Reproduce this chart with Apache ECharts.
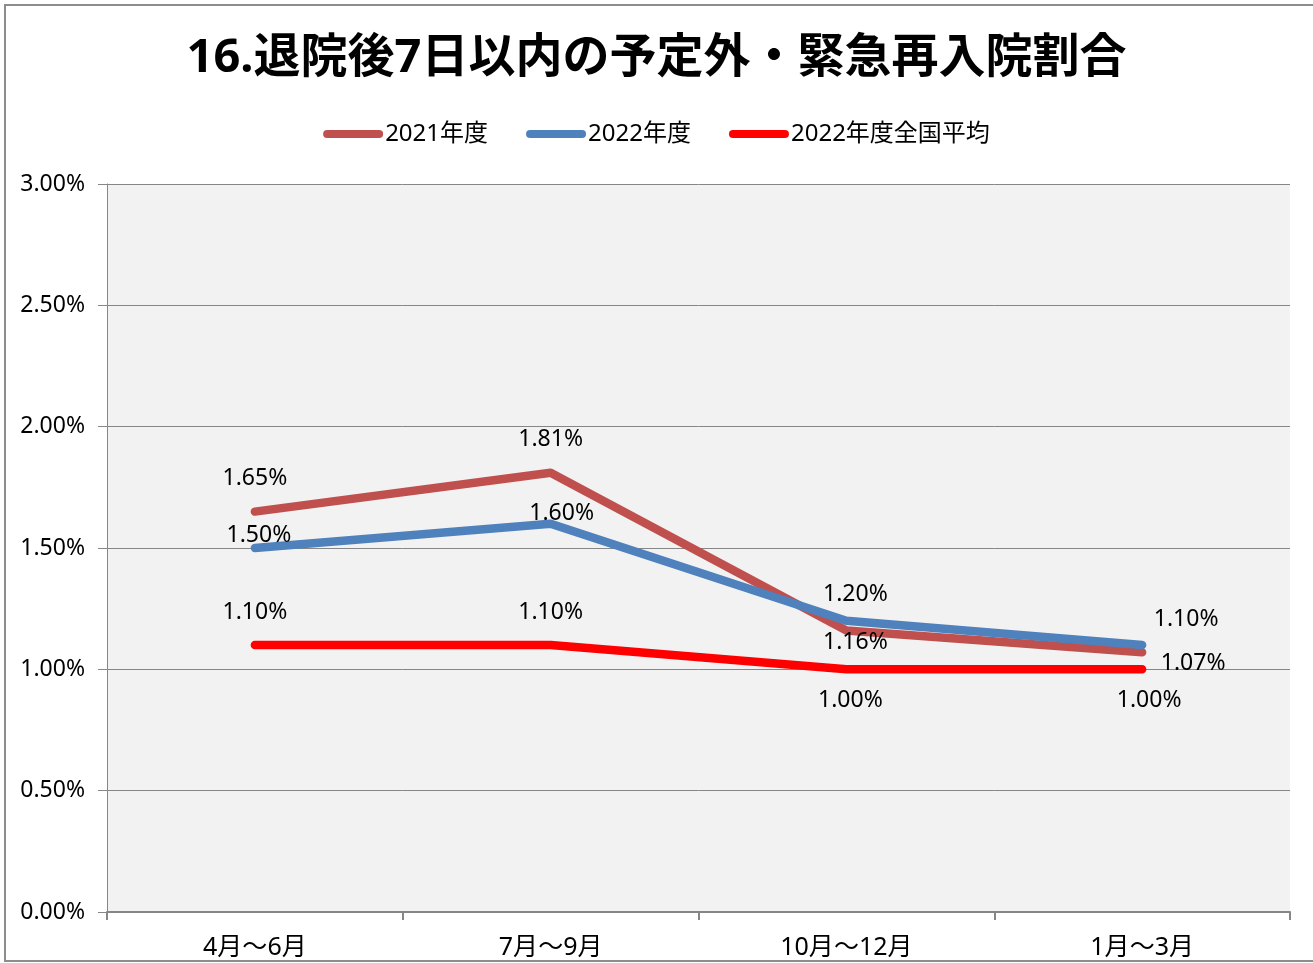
<!DOCTYPE html>
<html>
<head>
<meta charset="utf-8">
<title>退院後7日以内の予定外・緊急再入院割合</title>
<script src="https://cdn.jsdelivr.net/npm/echarts@6/dist/echarts.min.js"></script>
<style>
  html, body { margin: 0; padding: 0; background: #fff; }
  #chart { width: 1313px; height: 963px; }
</style>
</head>
<body>
<div id="chart"></div>
<script>
// データ
const categories = ["4月～6月", "7月～9月", "10月～12月", "1月～3月"];
const fy2021 = [1.65, 1.81, 1.16, 1.07];
const fy2022 = [1.5, 1.6, 1.2, 1.1];
const national2022 = [1.1, 1.1, 1.0, 1.0];
const yTicks = [0, 0.5, 1.0, 1.5, 2.0, 2.5, 3.0];

const FONT = "'Noto Sans', 'Noto Sans CJK JP', sans-serif";

// ラベル位置 (点からのずれ)
const labelOffsets = {
  fy2021: [[0, -33], [0, -33], [9, 12], [51, 11]],
  fy2022: [[4, -13], [11, -10], [9, -26], [44, -26]],
  national: [[0, -33], [0, -33], [4, 31], [7, 31]],
};

const makeData = (values, offsets) =>
  values.map((v, i) => ({
    value: v,
    label: { offset: offsets[i] },
  }));

const makeSeries = (name, values, offsets, color) => ({
  name,
  type: "line",
  data: makeData(values, offsets),
  symbol: "circle",
  symbolSize: 1,
  itemStyle: { color },
  lineStyle: { color, width: 8.5, cap: "round", join: "round" },
  label: {
    show: true,
    position: "inside",
    color: "#000",
    fontFamily: FONT,
    fontSize: 23,
    formatter: (p) => p.value.toFixed(2) + "%",
  },
  emphasis: { disabled: true },
});

const chart = echarts.init(document.getElementById("chart"));
chart.setOption({
  animation: false,
  backgroundColor: "#fff",
  title: {
    text: "16.退院後7日以内の予定外・緊急再入院割合",
    left: "center",
    top: 30,
    textStyle: {
      fontFamily: FONT,
      fontSize: 47,
      fontWeight: "bold",
      color: "#000",
    },
  },
  legend: {
    top: 117,
    left: "center",
    itemWidth: 60,
    itemHeight: 8,
    itemGap: 38,
    icon: "path://M4,0 H56 A4,4 0 0 1 56,8 H4 A4,4 0 0 1 4,0 Z",
    textStyle: { fontFamily: FONT, fontSize: 24, color: "#000", padding: [0, 0, 0, -3] },
    data: ["2021年度", "2022年度", "2022年度全国平均"],
  },
  graphic: [
    {
      type: "rect",
      shape: { x: 5, y: 5, width: 1330, height: 956 },
      style: { fill: "none", stroke: "#8c8c8c", lineWidth: 2 },
      silent: true,
    },
  ],
  grid: {
    left: 107,
    right: 23,
    top: 184,
    bottom: 51,
    show: true,
    backgroundColor: "#f2f2f2",
    borderWidth: 0,
  },
  xAxis: {
    type: "category",
    data: categories,
    boundaryGap: true,
    axisLine: { lineStyle: { color: "#868686", width: 2 } },
    axisTick: { show: true, length: 8, lineStyle: { color: "#868686", width: 2 } },
    axisLabel: { color: "#000", fontFamily: FONT, fontSize: 25, margin: 23 },
  },
  yAxis: {
    type: "value",
    min: yTicks[0],
    max: yTicks[yTicks.length - 1],
    interval: 0.5,
    axisLine: { show: true, lineStyle: { color: "#868686", width: 1 } },
    axisTick: { show: true, length: 9, lineStyle: { color: "#868686" } },
    axisLabel: {
      color: "#000",
      fontFamily: FONT,
      fontSize: 23,
      margin: 22,
      formatter: (v) => v.toFixed(2) + "%",
    },
    splitLine: { show: true, lineStyle: { color: "#868686", width: 1 } },
  },
  series: [
    makeSeries("2021年度", fy2021, labelOffsets.fy2021, "#c0504d"),
    makeSeries("2022年度", fy2022, labelOffsets.fy2022, "#4f81bd"),
    makeSeries("2022年度全国平均", national2022, labelOffsets.national, "#ff0000"),
  ],
});
</script>
</body>
</html>
